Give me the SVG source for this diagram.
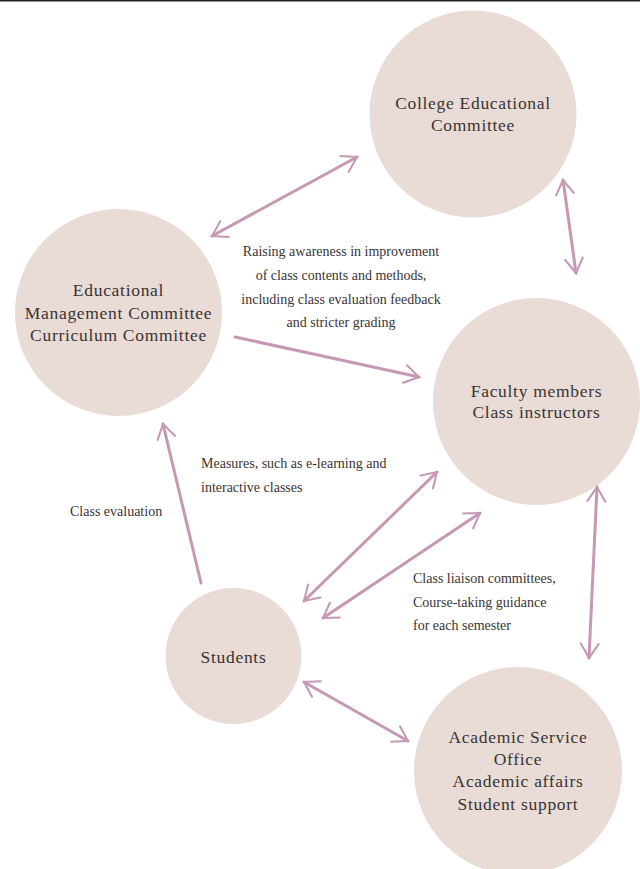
<svg xmlns="http://www.w3.org/2000/svg" width="640" height="869" viewBox="0 0 640 869">
<defs>
<marker id="ah" viewBox="0 0 12 12" refX="10" refY="6" markerWidth="7.5" markerHeight="7.5" orient="auto-start-reverse" markerUnits="strokeWidth">
<path d="M2,1 L10,6 L2,11" fill="none" stroke="#c798b4" stroke-width="1.1"/>
</marker>
<style>
.node{fill:#e9dbd5}
.nt{font-family:"Liberation Serif",serif;font-size:17.5px;fill:#3a3433;text-anchor:middle;letter-spacing:0.7px}
.lb{font-family:"Liberation Serif",serif;font-size:14px;fill:#3a3433}
.cn{fill:none;stroke:#c798b4;stroke-width:3;stroke-linecap:round}
</style>
</defs>
<rect width="640" height="869" fill="#fff"/>
<line x1="0" y1="0.8" x2="640" y2="0.8" stroke="#231f20" stroke-width="1.6"/>
<g id="college">
<circle class="node" cx="473" cy="114" r="103.5"/>
<text class="nt" x="473" y="109">College Educational</text>
<text class="nt" x="473" y="131">Committee</text>
</g>
<g id="edmgmt">
<circle class="node" cx="118.5" cy="312.5" r="103.5"/>
<text class="nt" x="118.5" y="296">Educational</text>
<text class="nt" x="118.5" y="319">Management Committee</text>
<text class="nt" x="118.5" y="341">Curriculum Committee</text>
</g>
<g id="faculty">
<circle class="node" cx="536.5" cy="401.5" r="103.5"/>
<text class="nt" x="536.5" y="397">Faculty members</text>
<text class="nt" x="536.5" y="418">Class instructors</text>
</g>
<g id="students">
<circle class="node" cx="233.5" cy="656" r="68"/>
<text class="nt" x="233.5" y="663">Students</text>
</g>
<g id="academic">
<circle class="node" cx="518" cy="771" r="104"/>
<text class="nt" x="518" y="743">Academic Service</text>
<text class="nt" x="518" y="765">Office</text>
<text class="nt" x="518" y="787">Academic affairs</text>
<text class="nt" x="518" y="810">Student support</text>
</g>
<g id="connectors">
<line class="cn" x1="212" y1="236" x2="357" y2="157" marker-start="url(#ah)" marker-end="url(#ah)"/>
<line class="cn" x1="563" y1="180" x2="576" y2="273" marker-start="url(#ah)" marker-end="url(#ah)"/>
<line class="cn" x1="235" y1="337" x2="419" y2="377" marker-end="url(#ah)"/>
<line class="cn" x1="201" y1="583" x2="163" y2="424" marker-end="url(#ah)"/>
<line class="cn" x1="304" y1="601" x2="437" y2="472" marker-start="url(#ah)" marker-end="url(#ah)"/>
<line class="cn" x1="323" y1="618" x2="480" y2="513" marker-start="url(#ah)" marker-end="url(#ah)"/>
<line class="cn" x1="597" y1="487" x2="589" y2="658" marker-start="url(#ah)" marker-end="url(#ah)"/>
<line class="cn" x1="304" y1="682" x2="408" y2="741" marker-start="url(#ah)" marker-end="url(#ah)"/>
</g>
<g id="labels">
<text class="lb" x="341" y="256" text-anchor="middle">Raising awareness in improvement</text>
<text class="lb" x="341" y="280" text-anchor="middle">of class contents and methods,</text>
<text class="lb" x="341" y="304" text-anchor="middle">including class evaluation feedback</text>
<text class="lb" x="341" y="327" text-anchor="middle">and stricter grading</text>
<text class="lb" x="201" y="468">Measures, such as e-learning and</text>
<text class="lb" x="201" y="492">interactive classes</text>
<text class="lb" x="70" y="516">Class evaluation</text>
<text class="lb" x="413" y="583">Class liaison committees,</text>
<text class="lb" x="413" y="607">Course-taking guidance</text>
<text class="lb" x="413" y="630">for each semester</text>
</g>
</svg>
